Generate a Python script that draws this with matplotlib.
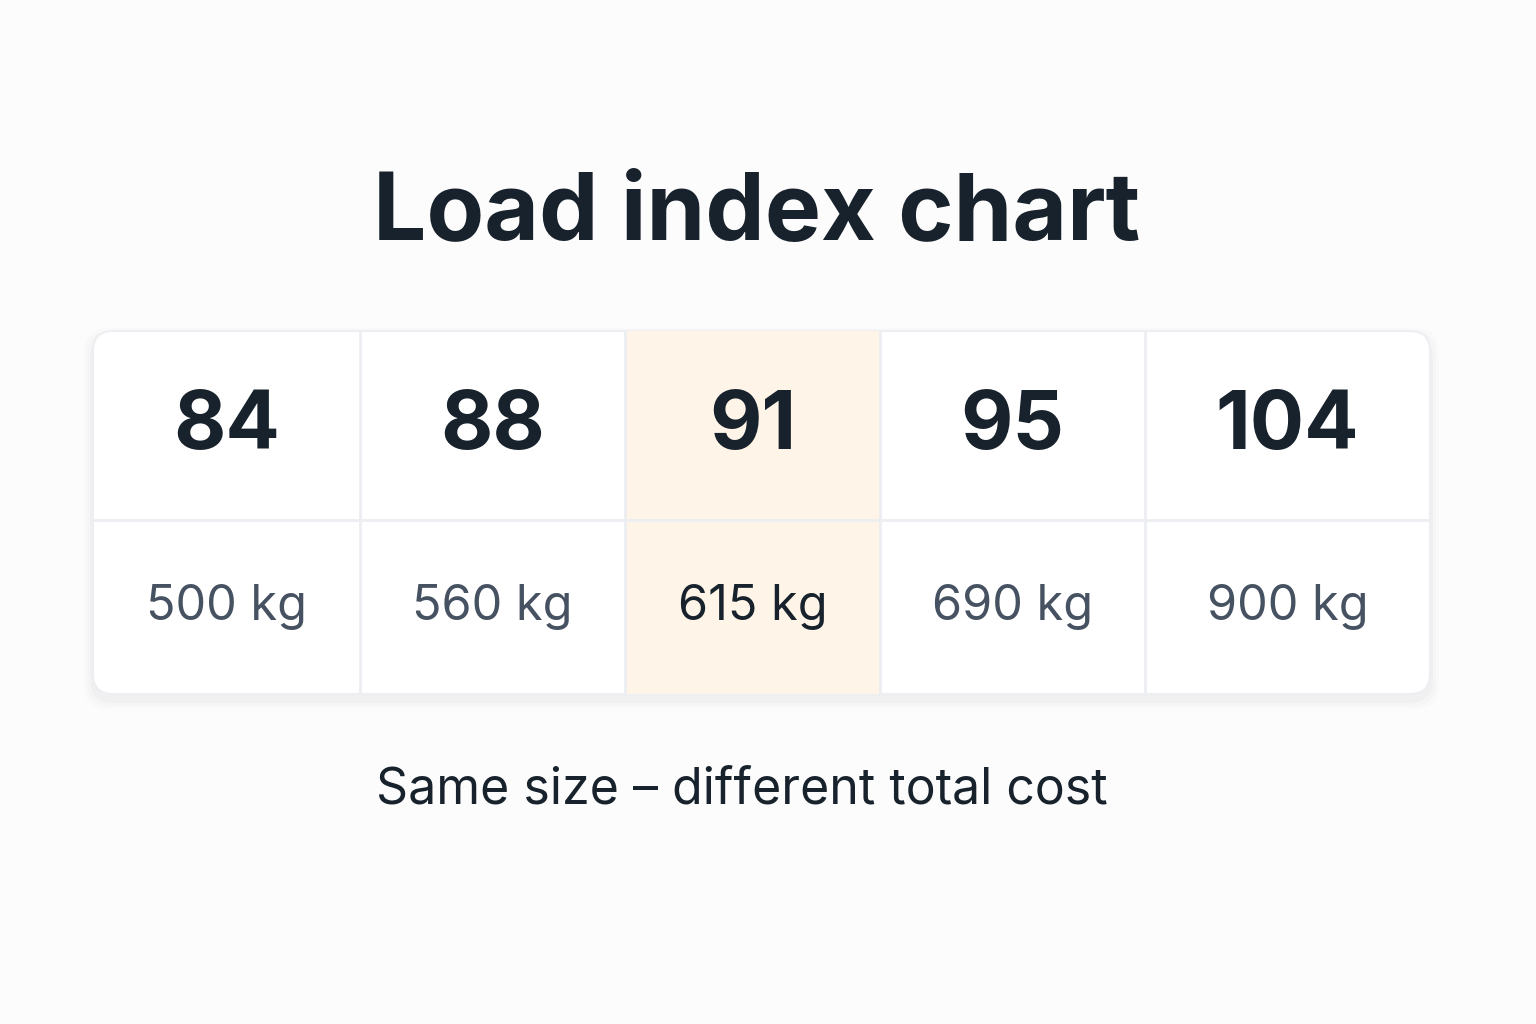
import matplotlib
matplotlib.use("Agg")
import matplotlib.pyplot as plt
from matplotlib.patches import FancyBboxPatch, Rectangle

plt.rcParams['font.family'] = ['Inter', 'DejaVu Sans']

# chart data
load_index = ["84", "88", "91", "95", "104"]
load_kg = ["500 kg", "560 kg", "615 kg", "690 kg", "900 kg"]
highlight = 2
col_edges = [93, 360, 625, 880, 1145, 1430]

title = "Load index chart"
subtitle = "Same size \u2013 different total cost"

dark = "#18222c"
grey = "#465261"
line = "#eceef2"

fig = plt.figure(figsize=(15.36, 10.24), dpi=100)
fig.patch.set_facecolor("#fcfcfc")
ax = fig.add_axes([0, 0, 1, 1])
ax.set_xlim(0, 1536)
ax.set_ylim(1024, 0)
ax.axis("off")

top, mid, bot = 331, 520, 694
left, right = col_edges[0], col_edges[-1]

# soft shadow
for i, a in enumerate([0.018, 0.014, 0.01]):
    d = 6 + i * 6
    ax.add_patch(FancyBboxPatch((left - d / 2, top - d / 2 + 6), right - left + d, bot - top + d,
                                boxstyle="round,pad=0,rounding_size=24", fc="#000000", ec="none",
                                alpha=a, zorder=1))

card = FancyBboxPatch((left, top), right - left, bot - top,
                      boxstyle="round,pad=0,rounding_size=20", fc="white", ec=line, lw=1.5, zorder=2)
ax.add_patch(card)

hl = Rectangle((col_edges[highlight], top), col_edges[highlight + 1] - col_edges[highlight],
               bot - top, fc="#fff4e8", ec="none", zorder=3)
hl.set_clip_path(card)
ax.add_patch(hl)

for x in col_edges[1:-1]:
    ax.plot([x, x], [top, bot], color=line, lw=2, zorder=4)
ax.plot([left, right], [mid, mid], color=line, lw=2, zorder=4)

for i, (idx, kg) in enumerate(zip(load_index, load_kg)):
    cx = (col_edges[i] + col_edges[i + 1]) / 2
    ax.text(cx, 428, idx, ha="center", va="center", fontsize=58, fontweight="bold",
            color=dark, zorder=5)
    ax.text(cx, 607, kg, ha="center", va="center", fontsize=35,
            color=dark if i == highlight else grey, zorder=5)

ax.text(757, 215, title, ha="center", va="center", fontsize=68, fontweight="bold", color=dark)
ax.text(742, 790, subtitle, ha="center", va="center", fontsize=36, color=dark)

fig.savefig("out.png", dpi=100, facecolor=fig.get_facecolor())
